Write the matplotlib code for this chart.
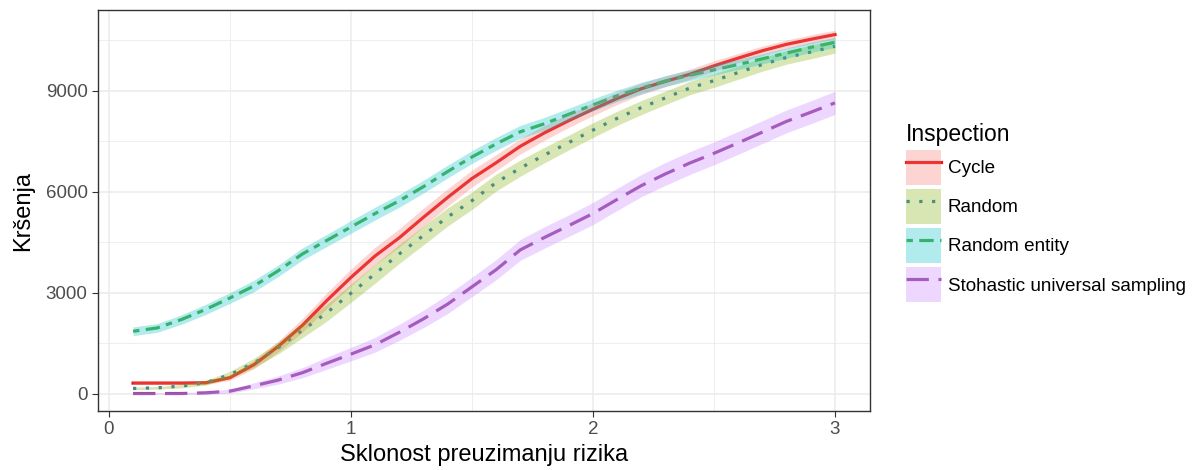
import matplotlib.pyplot as plt
import numpy as np
from matplotlib.patches import Patch
from matplotlib.lines import Line2D
from matplotlib.legend_handler import HandlerTuple

plt.rcParams['font.family'] = ['Liberation Sans', 'DejaVu Sans']

# x values: risk propensity
x = np.round(np.arange(0.1, 3.01, 0.1), 1)

cycle = [310, 310, 310, 320, 470, 860, 1400, 2030, 2760, 3450,
         4090, 4630, 5240, 5830, 6390, 6860, 7350, 7750, 8110, 8450,
         8770, 9060, 9280, 9490, 9740, 9970, 10190, 10380, 10530, 10670]
random_ = [150, 170, 220, 320, 560, 910, 1360, 1880, 2400, 2980,
           3560, 4150, 4700, 5250, 5730, 6270, 6700, 7090, 7460, 7830,
           8180, 8500, 8790, 9080, 9300, 9540, 9780, 9990, 10150, 10320]
rand_entity = [1850, 1950, 2200, 2500, 2840, 3200, 3650, 4150, 4550, 4950,
               5350, 5730, 6150, 6600, 7030, 7420, 7780, 8020, 8300, 8580,
               8850, 9080, 9290, 9460, 9620, 9780, 9950, 10120, 10290, 10440]
sus = [0, 0, 0, 20, 70, 230, 400, 620, 900, 1170,
       1450, 1820, 2220, 2660, 3170, 3680, 4270, 4640, 4990, 5350,
       5770, 6180, 6530, 6850, 7140, 7450, 7770, 8090, 8360, 8640]

# ribbon half widths
cycle_err = [40, 40, 40, 50, 80, 120, 160, 200, 230, 250,
             260, 270, 270, 260, 250, 240, 230, 220, 200, 190,
             180, 170, 160, 150, 150, 140, 140, 130, 130, 130]
random_err = [40, 40, 50, 70, 100, 140, 180, 220, 250, 270,
              280, 280, 280, 270, 260, 250, 240, 230, 220, 220,
              210, 210, 200, 200, 200, 200, 200, 200, 200, 200]
entity_err = [130, 130, 140, 150, 160, 170, 170, 180, 180, 190,
              190, 190, 190, 190, 190, 190, 190, 190, 180, 180,
              170, 170, 160, 160, 150, 150, 150, 150, 150, 150]
sus_err = [20, 20, 20, 40, 60, 90, 120, 150, 180, 200,
           220, 240, 260, 280, 290, 300, 310, 320, 320, 330,
           330, 330, 340, 340, 340, 340, 340, 340, 340, 345]

labels = ["Cycle", "Random", "Random entity", "Stohastic universal sampling"]
series = [cycle, random_, rand_entity, sus]
errs = [cycle_err, random_err, entity_err, sus_err]
fills = ["#F8766D", "#7CAE00", "#00BFC4", "#C77CFF"]
lines = ["#E41A1C", "#377EB8", "#4DAF4A", "#984EA3"]
dashes = [None, (1.0, 3.0), (2, 2, 4.5, 2), (7, 3)]

fig = plt.figure(figsize=(11.92, 4.70), dpi=100)
ax = fig.add_axes([0.0822, 0.1255, 0.6477, 0.8532])

handles = []
for y, e, fc, lc, d, lab in zip(series, errs, fills, lines, dashes, labels):
    y = np.array(y, float)
    e = np.array(e, float)
    # ribbons sit on top of the lines, as in the original
    ax.fill_between(x, y - e, y + e, color=fc, alpha=0.3, lw=0, zorder=3)
    ln, = ax.plot(x, y, color=lc, lw=2.3, dash_capstyle='butt', zorder=2)
    if d is not None:
        ln.set_dashes(d)
    p = Patch(facecolor=fc, alpha=0.3, edgecolor='none')
    l2 = Line2D([0], [0], color=lc, lw=2.3, dash_capstyle='butt')
    if d is not None:
        l2.set_dashes(d)
    handles.append((l2, p))

ax.set_xlim(-0.045, 3.145)
ax.set_ylim(-520, 11400)
ax.set_xticks([0, 1, 2, 3])
ax.set_yticks([0, 3000, 6000, 9000])
ax.set_xticks([0.5, 1.5, 2.5], minor=True)
ax.set_yticks([1500, 4500, 7500, 10500], minor=True)
ax.grid(True, which='major', color='#ebebeb', lw=1.1)
ax.grid(True, which='minor', color='#ebebeb', lw=0.6)
ax.set_axisbelow(True)
for s in ax.spines.values():
    s.set_color('#333333')
    s.set_linewidth(1.0)
    s.set_zorder(5)
ax.tick_params(which='major', length=4, color='#333333', labelsize=13.5, labelcolor='#4d4d4d')
ax.tick_params(which='minor', length=0)
ax.set_xlabel("Sklonost preuzimanju rizika", fontsize=17, labelpad=4)
ax.set_ylabel("Kršenja", fontsize=17, labelpad=8)

leg = fig.legend(handles, labels, handler_map={tuple: HandlerTuple(ndivide=1, pad=0)},
                 loc='upper left', bbox_to_anchor=(0.754, 0.755), frameon=False,
                 title="Inspection", title_fontsize=16.5, fontsize=13.6,
                 handlelength=1.85, handleheight=2.5, labelspacing=0.2,
                 handletextpad=0.35, borderaxespad=0)
leg._legend_box.align = "left"
leg._legend_box.sep = 3

fig.savefig("out.png", dpi=100)
